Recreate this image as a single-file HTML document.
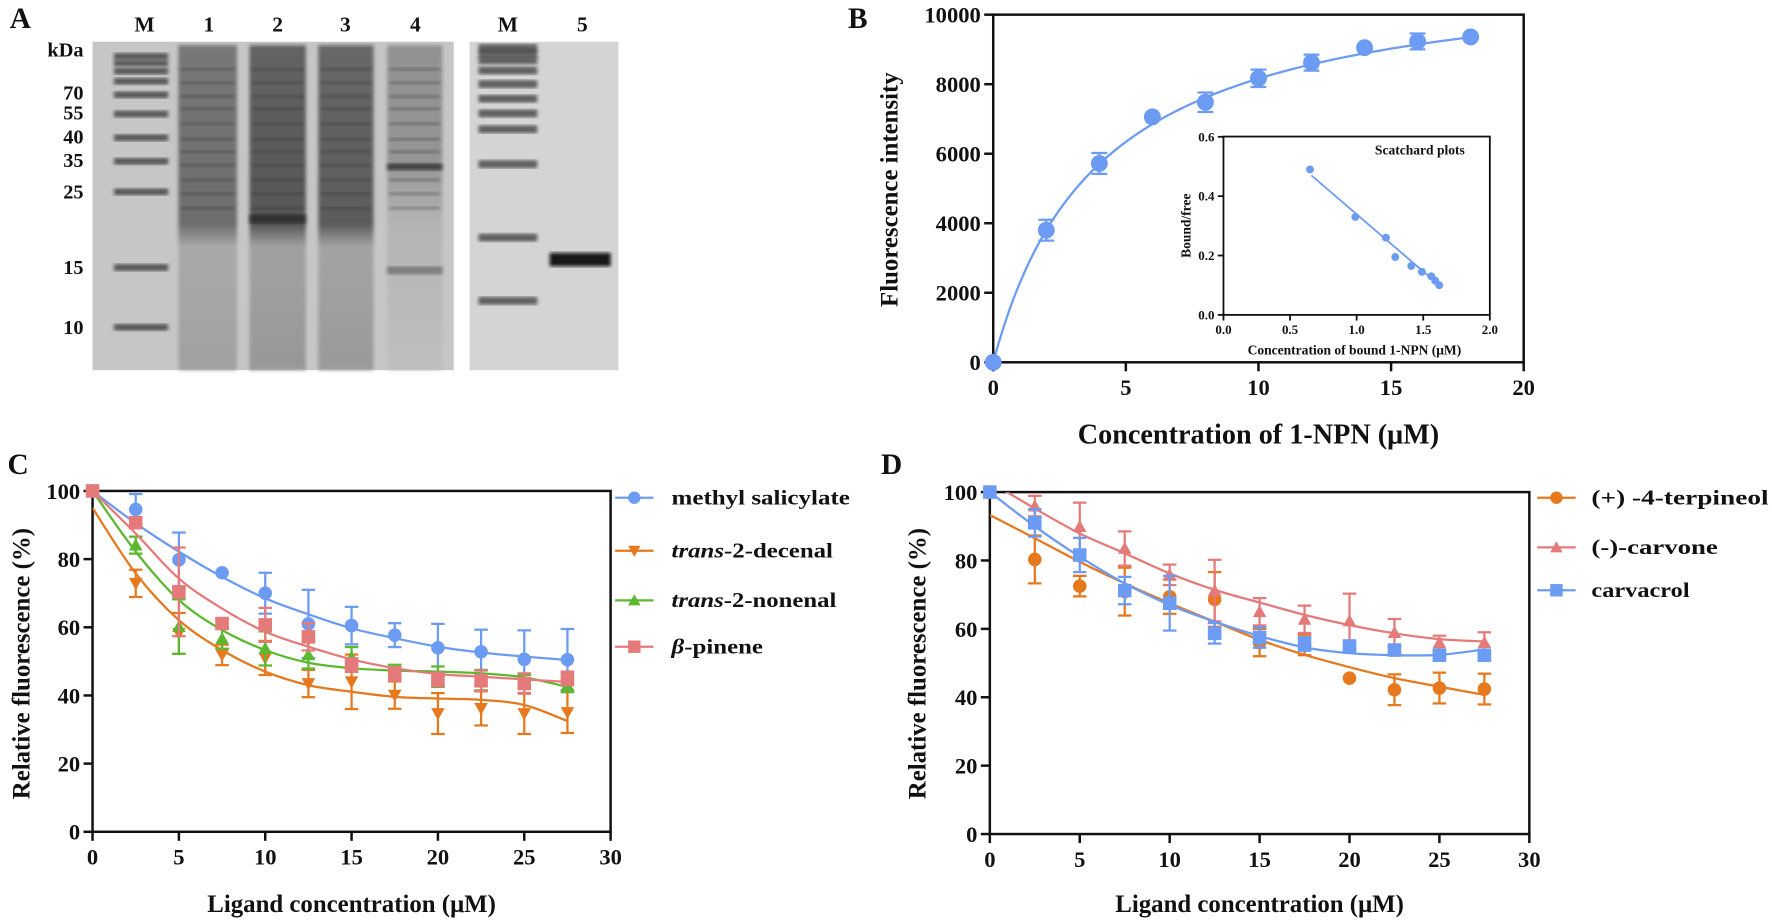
<!DOCTYPE html>
<html><head><meta charset="utf-8"><title>Figure</title>
<style>
html,body{margin:0;padding:0;background:#fff;}
svg{display:block;font-family:"Liberation Serif",serif;font-weight:bold;}
</style></head>
<body>
<svg id="fig" xmlns="http://www.w3.org/2000/svg" width="1772" height="924" viewBox="0 0 1570 818.7" preserveAspectRatio="none">
<defs>
<filter id="blur1"><feGaussianBlur stdDeviation="1.6"/></filter>
<filter id="blur2"><feGaussianBlur stdDeviation="4"/></filter>
<linearGradient id="laneG" x1="0" y1="0" x2="0" y2="1">
<stop offset="0" stop-color="#5e5e5e"/><stop offset="0.55" stop-color="#505050"/><stop offset="0.62" stop-color="#a0a0a0"/><stop offset="1" stop-color="#959595"/></linearGradient>
<linearGradient id="laneG4" x1="0" y1="0" x2="0" y2="1">
<stop offset="0" stop-color="#858585"/><stop offset="0.35" stop-color="#888888"/><stop offset="0.55" stop-color="#b0b0b0"/><stop offset="1" stop-color="#bdbdbd"/></linearGradient>
<clipPath id="clipC"><rect x="82" y="430" width="460" height="310"/></clipPath>
<clipPath id="clipD"><rect x="877" y="436" width="478" height="304"/></clipPath>
</defs>
</svg>
<script>
// ---------- data ----------
// Panel B
const bX = [0, 2, 4, 6, 8, 10, 12, 14, 16, 18];
const bY = [0, 3800, 5720, 7060, 7480, 8170, 8620, 9050, 9230, 9360];
const bErr = [0, 300, 300, 0, 280, 250, 230, 0, 230, 0];
const bBmax = 11440, bKd = 4.02;
const bXTicks = [0, 5, 10, 15, 20];
const bYTicks = [0, 2000, 4000, 6000, 8000, 10000];
// Inset (Scatchard)
const sX = [0.65, 0.99, 1.22, 1.29, 1.41, 1.49, 1.56, 1.59, 1.62];
const sY = [0.49, 0.33, 0.26, 0.195, 0.165, 0.145, 0.13, 0.115, 0.10];
const sLine = [[0.66, 0.47], [1.62, 0.10]];
const sXTicks = [0, 0.5, 1.0, 1.5, 2.0];
const sYTicks = [0, 0.2, 0.4, 0.6];
// Panel C
const cX = [0, 2.5, 5, 7.5, 10, 12.5, 15, 17.5, 20, 22.5, 25, 27.5];
const cMethyl = [100, 94.6, 79.8, 76, 70, 61, 60.5, 57.7, 54, 52.8, 50.6, 50.5];
const cMethylErr = [0, 4.5, 8, 0, 6, 10, 5.5, 3.5, 7, 6.5, 8.5, 9];
const cMethylFit = [100, 90.5, 82.2, 74.8, 68.5, 63.8, 59.7, 56.8, 54.3, 52.6, 51.4, 50.4];
const cDecenal = [100, 72.9, 58.2, 51.9, 51, 43.5, 44, 40.1, 34.7, 36.2, 34.7, 35];
const cDecenalErr = [0, 4, 6, 3, 5, 4, 8, 4, 6, 5, 6, 6];
const cDecenalFit = [95, 75.8, 62.1, 53.3, 47, 43, 41.1, 39.6, 39.1, 38.7, 37.2, 32.5];
const cNonenal = [100, 84.1, 60.2, 56.7, 53.8, 51.9, 51.2, 47, 45.5, 44.5, 44, 43];
const cNonenalErr = [0, 2.5, 8, 3, 5, 4, 3, 2, 3, 3, 2, 2];
const cNonenalFit = [100, 82.2, 68, 59.2, 53.3, 49.6, 48, 47.3, 47, 46.5, 45.3, 42.5];
const cPinene = [100, 90.7, 70.4, 61.1, 60.7, 57.2, 48.9, 46.3, 44.7, 44.3, 43.5, 45];
const cPineneErr = [0, 1.5, 13, 1, 5, 4, 2, 2, 2, 3, 3, 2];
const cPineneFit = [100, 87.5, 74.3, 65.5, 58.7, 54.3, 50.6, 48, 46.3, 45.5, 44.7, 44];
const cXTicks = [0, 5, 10, 15, 20, 25, 30];
const cYTicks = [0, 20, 40, 60, 80, 100];
// Panel D
const dX = [0, 2.5, 5, 7.5, 10, 12.5, 15, 17.5, 20, 22.5, 25, 27.5];
const dTerp = [100, 80.3, 72.5, 70.9, 69.4, 68.6, 56, 55.3, 45.6, 42.2, 42.7, 42.4];
const dTerpErr = [0, 7, 3, 7, 5, 8, 4, 3, 0, 4.5, 4.5, 4.5];
const dTerpFit = [93.3, 86.5, 79.6, 73.3, 67.5, 62.1, 56.8, 52.4, 48.8, 45.6, 43.1, 40.7];
const dCarvone = [100, 95.9, 89.9, 83.5, 75.8, 71.2, 65, 62.8, 62.3, 58.9, 56, 56];
const dCarvoneErr = [0, 3, 7, 5, 3, 9, 4, 4, 8, 4, 2, 3];
const dCarvoneFit = [103, 95.2, 87.9, 82.1, 76.2, 71.4, 67.7, 64.1, 61.1, 58.7, 57, 56.3];
const dCarvacrol = [100, 91, 81.6, 71.2, 67.5, 58.7, 57.5, 55.6, 55, 53.8, 52.3, 52.3];
const dCarvacrolErr = [0, 4, 5, 4, 8, 3, 3, 2, 1, 1, 1, 1];
const dCarvacrolFit = [100, 90, 81.1, 73.3, 67, 62.1, 57.9, 54.6, 52.9, 52.3, 52.4, 54];

// ---------- helpers ----------
const NS = "http://www.w3.org/2000/svg";
const svg = document.getElementById('fig');
function mk(tag, attrs, parent) {
  const e = document.createElementNS(NS, tag);
  for (const k in attrs) e.setAttribute(k, attrs[k]);
  (parent || svg).appendChild(e);
  return e;
}
function txt(str, x, y, size, anchor, parent, extra) {
  const t = mk('text', Object.assign({x: x, y: y, 'font-size': size, 'text-anchor': anchor || 'middle', fill: '#111'}, extra || {}), parent);
  t.textContent = str;
  return t;
}
function smooth(pts) {
  let d = 'M' + pts[0][0] + ',' + pts[0][1];
  for (let i = 0; i < pts.length - 1; i++) {
    const p0 = pts[i - 1] || pts[i], p1 = pts[i], p2 = pts[i + 1], p3 = pts[i + 2] || p2;
    const c1 = [p1[0] + (p2[0] - p0[0]) / 6, p1[1] + (p2[1] - p0[1]) / 6];
    const c2 = [p2[0] - (p3[0] - p1[0]) / 6, p2[1] - (p3[1] - p1[1]) / 6];
    d += ' C' + c1[0] + ',' + c1[1] + ' ' + c2[0] + ',' + c2[1] + ' ' + p2[0] + ',' + p2[1];
  }
  return d;
}
function marker(shape, x, y, s, color, g) {
  if (shape === 'circle') return mk('circle', {cx: x, cy: y, r: s, fill: color}, g);
  if (shape === 'square') return mk('rect', {x: x - s, y: y - s, width: 2 * s, height: 2 * s, fill: color}, g);
  if (shape === 'down') return mk('polygon', {points: (x - s) + ',' + (y - s * 0.8) + ' ' + (x + s) + ',' + (y - s * 0.8) + ' ' + x + ',' + (y + s), fill: color}, g);
  return mk('polygon', {points: (x - s) + ',' + (y + s * 0.8) + ' ' + (x + s) + ',' + (y + s * 0.8) + ' ' + x + ',' + (y - s), fill: color}, g);
}
function errbar(x, y1, y2, cap, color, g) {
  mk('line', {x1: x, y1: y1, x2: x, y2: y2, stroke: color, 'stroke-width': 2}, g);
  mk('line', {x1: x - cap, y1: y1, x2: x + cap, y2: y1, stroke: color, 'stroke-width': 2}, g);
  mk('line', {x1: x - cap, y1: y2, x2: x + cap, y2: y2, stroke: color, 'stroke-width': 2}, g);
}
function frame(g, x0, x1, y0, y1, xt, yt, xs, ys, fs, tick, fmtX, fmtY, sw) {
  mk('rect', {x: x0, y: y1, width: x1 - x0, height: y0 - y1, fill: 'none', stroke: '#111', 'stroke-width': sw}, g);
  xt.forEach(v => {
    const x = xs(v);
    const tl = mk('line', {x1: x, y1: y0, x2: x, y2: y0 + tick, stroke: '#111', 'stroke-width': sw}, g);
    
    
    const t = txt(fmtX(v), x, y0 + tick + fs * 1.05, fs, 'middle', g);
    
    
  });
  yt.forEach(v => {
    const y = ys(v);
    const tl = mk('line', {x1: x0 - tick, y1: y, x2: x0, y2: y, stroke: '#111', 'stroke-width': sw}, g);
    
    
    const t = txt(fmtY(v), x0 - tick - 3, y + fs * 0.35, fs, 'end', g);
    
    
  });
}

// ---------- Panel A (gel) ----------
const gA = mk('g', {});


const la = txt('A', 18, 25, 26, 'middle', gA);


const gel1 = mk('rect', {x: 82, y: 37, width: 320, height: 291, fill: '#c6c6c6'}, gA);


const gel2 = mk('rect', {x: 416, y: 37, width: 132, height: 291, fill: '#d4d4d4'}, gA);


const laneNames = ['M', '1', '2', '3', '4', 'M', '5'];
const laneCx = [128, 185, 246, 306, 368, 450, 516];
laneNames.forEach((n, i) => {
  const t = txt(n, laneCx[i], 28, 19, 'middle', gA);
  
  
});
const kdaLabels = ['kDa', '70', '55', '40', '35', '25', '15', '10'];
const kdaY = [50, 88, 106, 127, 148, 176, 243, 296];
kdaLabels.forEach((n, i) => {
  const t = txt(n, 74, kdaY[i], 18, 'end', gA);
  
  
});
[[158, 52, 'url(#laneG)', 0.75], [221, 50, 'url(#laneG)', 0.95], [282, 49, 'url(#laneG)', 0.9], [343, 49, 'url(#laneG4)', 0.8]].forEach(l => {
  const r = mk('rect', {x: l[0], y: 40, width: l[1], height: 288, fill: l[2], opacity: l[3], filter: 'url(#blur1)'}, gA);
  
  
  [60, 72, 84, 95, 108, 122, 133, 145, 158, 170, 183].forEach(by => {
    mk('rect', {x: l[0] + 2, y: by, width: l[1] - 4, height: 3, fill: '#333', opacity: 0.35, filter: 'url(#blur1)'}, gA);
  });
});
mk('rect', {x: 343, y: 145, width: 49, height: 6, fill: '#333', opacity: 0.8, filter: 'url(#blur1)'}, gA);
mk('rect', {x: 343, y: 236, width: 49, height: 7, fill: '#555', opacity: 0.6, filter: 'url(#blur1)'}, gA);
mk('rect', {x: 221, y: 190, width: 50, height: 8, fill: '#222', opacity: 0.7, filter: 'url(#blur1)'}, gA);
[50, 56, 63, 72, 84, 101, 122, 143, 170, 237, 290].forEach(by => {
  const b = mk('rect', {x: 101, y: by - 3, width: 48, height: 6, fill: '#333', opacity: 0.75, filter: 'url(#blur1)'}, gA);
  
  
});
[42, 47, 53, 62, 74, 87, 100, 114, 145, 210, 266].forEach(by => {
  const b = mk('rect', {x: 424, y: by - 3, width: 52, height: 7, fill: '#333', opacity: 0.72, filter: 'url(#blur1)'}, gA);
  
  
});
const b5 = mk('rect', {x: 487, y: 224, width: 54, height: 12, fill: '#111', opacity: 0.95, filter: 'url(#blur1)'}, gA);



// ---------- Panel B ----------
const gB = mk('g', {});


const bx = v => 880 + v * 23.5;
const by = v => 321 - v * 0.0308;
const lb = txt('B', 760, 25, 26, 'middle', gB);


frame(gB, 880, 1350, 321, 13, bXTicks, bYTicks, bx, by, 20, 8, v => String(v), v => String(v), 2.2);
const bxt = txt('Concentration of 1-NPN (μM)', 1115, 393, 25, 'middle', gB);


const byt = txt('Fluorescence intensity', 0, 0, 22, 'middle', gB, {transform: 'translate(795,168) rotate(-90)'});


const bCurvePts = [];
for (let i = 0; i <= 90; i++) { const x = 18 * i / 90; bCurvePts.push([bx(x), by(bBmax * x / (bKd + x))]); }
const bc = mk('path', {d: 'M' + bCurvePts.map(p => p.join(',')).join(' L'), fill: 'none', stroke: '#6b9bf2', 'stroke-width': 2}, gB);


bX.forEach((x, i) => {
  if (bErr[i] > 0) errbar(bx(x), by(bY[i] + bErr[i]), by(bY[i] - bErr[i]), 7, '#6b9bf2', gB);
  const m = marker('circle', bx(x), by(bY[i]), 7.5, '#6b9bf2', gB);
  
  
});
const gI = mk('g', {});


const sx = v => 1084 + v * 118;
const sy = v => 279 - v * 263;
frame(gI, 1084, 1320, 279, 121, sXTicks, sYTicks, sx, sy, 11.5, 5, v => v.toFixed(1), v => v.toFixed(1), 1.6);
const st = txt('Scatchard plots', 1258, 137, 12, 'middle', gI);


const sxt = txt('Concentration of bound 1-NPN (μM)', 1200, 314, 12, 'middle', gI);


const syt = txt('Bound/free', 0, 0, 12, 'middle', gI, {transform: 'translate(1055,200) rotate(-90)'});


const sl = mk('line', {x1: sx(sLine[0][0]), y1: sy(sLine[0][1]), x2: sx(sLine[1][0]), y2: sy(sLine[1][1]), stroke: '#6b9bf2', 'stroke-width': 1.6}, gI);


sX.forEach((x, i) => {
  const m = marker('circle', sx(x), sy(sY[i]), 3.5, '#6b9bf2', gI);
  
  
});

// ---------- generic competition panel ----------
function panel(cfg) {
  const g = mk('g', {});
  
  
  const xs = v => cfg.x0 + v * (cfg.x1 - cfg.x0) / 30;
  const ys = v => cfg.y0 - v * (cfg.y0 - cfg.y1) / 100;
  const pl = txt(cfg.letter, cfg.letterX, 420, 26, 'middle', g);
  
  
  frame(g, cfg.x0, cfg.x1, cfg.y0, cfg.y1, cXTicks, cYTicks, xs, ys, 20, 8, v => String(v), v => String(v), 2.2);
  const xt = txt('Ligand concentration (μM)', (cfg.x0 + cfg.x1) / 2, 808, 22, 'middle', g);
  
  
  const yt = txt('Relative fluorescence (%)', 0, 0, 22, 'middle', g, {transform: 'translate(' + cfg.ytX + ',588) rotate(-90)'});
  
  
  cfg.series.forEach(s => {
    const sg = mk('g', {}, g);
    
    
    const fitPts = cfg.xv.map((x, i) => [xs(x), ys(s.fit[i])]);
    const c = mk('path', {d: smooth(fitPts), fill: 'none', stroke: s.color, 'stroke-width': 2, 'clip-path': cfg.clip}, sg);
    
    
    cfg.xv.forEach((x, i) => {
      if (s.err[i] > 0) errbar(xs(x), ys(s.vals[i] + s.err[i]), ys(s.vals[i] - s.err[i]), 6, s.color, sg);
      const m = marker(s.shape, xs(x), ys(s.vals[i]), 6, s.color, sg);
      
      
    });
    const lg = mk('g', {}, g);
    
    
    mk('line', {x1: cfg.legX, y1: s.ly, x2: cfg.legX + 34, y2: s.ly, stroke: s.color, 'stroke-width': 2}, lg);
    marker(s.shape, cfg.legX + 17, s.ly, 5.5, s.color, lg);
    const t = mk('text', {x: cfg.legTX, y: s.ly + 6, 'font-size': 19, fill: '#111', textLength: s.lw, lengthAdjust: 'spacingAndGlyphs'}, lg);
    if (s.ital) { const it = mk('tspan', {'font-style': 'italic'}, t); it.textContent = s.ital; }
    t.appendChild(document.createTextNode(s.label));
  });
}
panel({name: 'panel-c-competition', letter: 'C', letterX: 16, x0: 82, x1: 541, y0: 737, y1: 435, ytX: 26, clip: 'url(#clipC)', xv: cX, legX: 545, legTX: 595,
  series: [
    {key: 'methyl-salicylate', vals: cMethyl, err: cMethylErr, fit: cMethylFit, color: '#6b9bf2', shape: 'circle', ly: 441, label: 'methyl salicylate', lw: 158},
    {key: 'trans-2-decenal', vals: cDecenal, err: cDecenalErr, fit: cDecenalFit, color: '#e6781e', shape: 'down', ly: 488, ital: 'trans', label: '-2-decenal', lw: 143},
    {key: 'trans-2-nonenal', vals: cNonenal, err: cNonenalErr, fit: cNonenalFit, color: '#5cb82e', shape: 'up', ly: 532, ital: 'trans', label: '-2-nonenal', lw: 146},
    {key: 'beta-pinene', vals: cPinene, err: cPineneErr, fit: cPineneFit, color: '#e57a7a', shape: 'square', ly: 573, ital: 'β', label: '-pinene', lw: 81}
  ]});
panel({name: 'panel-d-competition', letter: 'D', letterX: 790, x0: 877, x1: 1355, y0: 739, y1: 436, ytX: 820, clip: 'url(#clipD)', xv: dX, legX: 1362, legTX: 1410,
  series: [
    {key: 'terpineol', vals: dTerp, err: dTerpErr, fit: dTerpFit, color: '#e6781e', shape: 'circle', ly: 441, label: '(+) -4-terpineol', lw: 157},
    {key: 'carvone', vals: dCarvone, err: dCarvoneErr, fit: dCarvoneFit, color: '#e57a7a', shape: 'up', ly: 485, label: '(-)-carvone', lw: 112},
    {key: 'carvacrol', vals: dCarvacrol, err: dCarvacrolErr, fit: dCarvacrolFit, color: '#6b9bf2', shape: 'square', ly: 523, label: 'carvacrol', lw: 87}
  ]});
</script>
</body></html>
